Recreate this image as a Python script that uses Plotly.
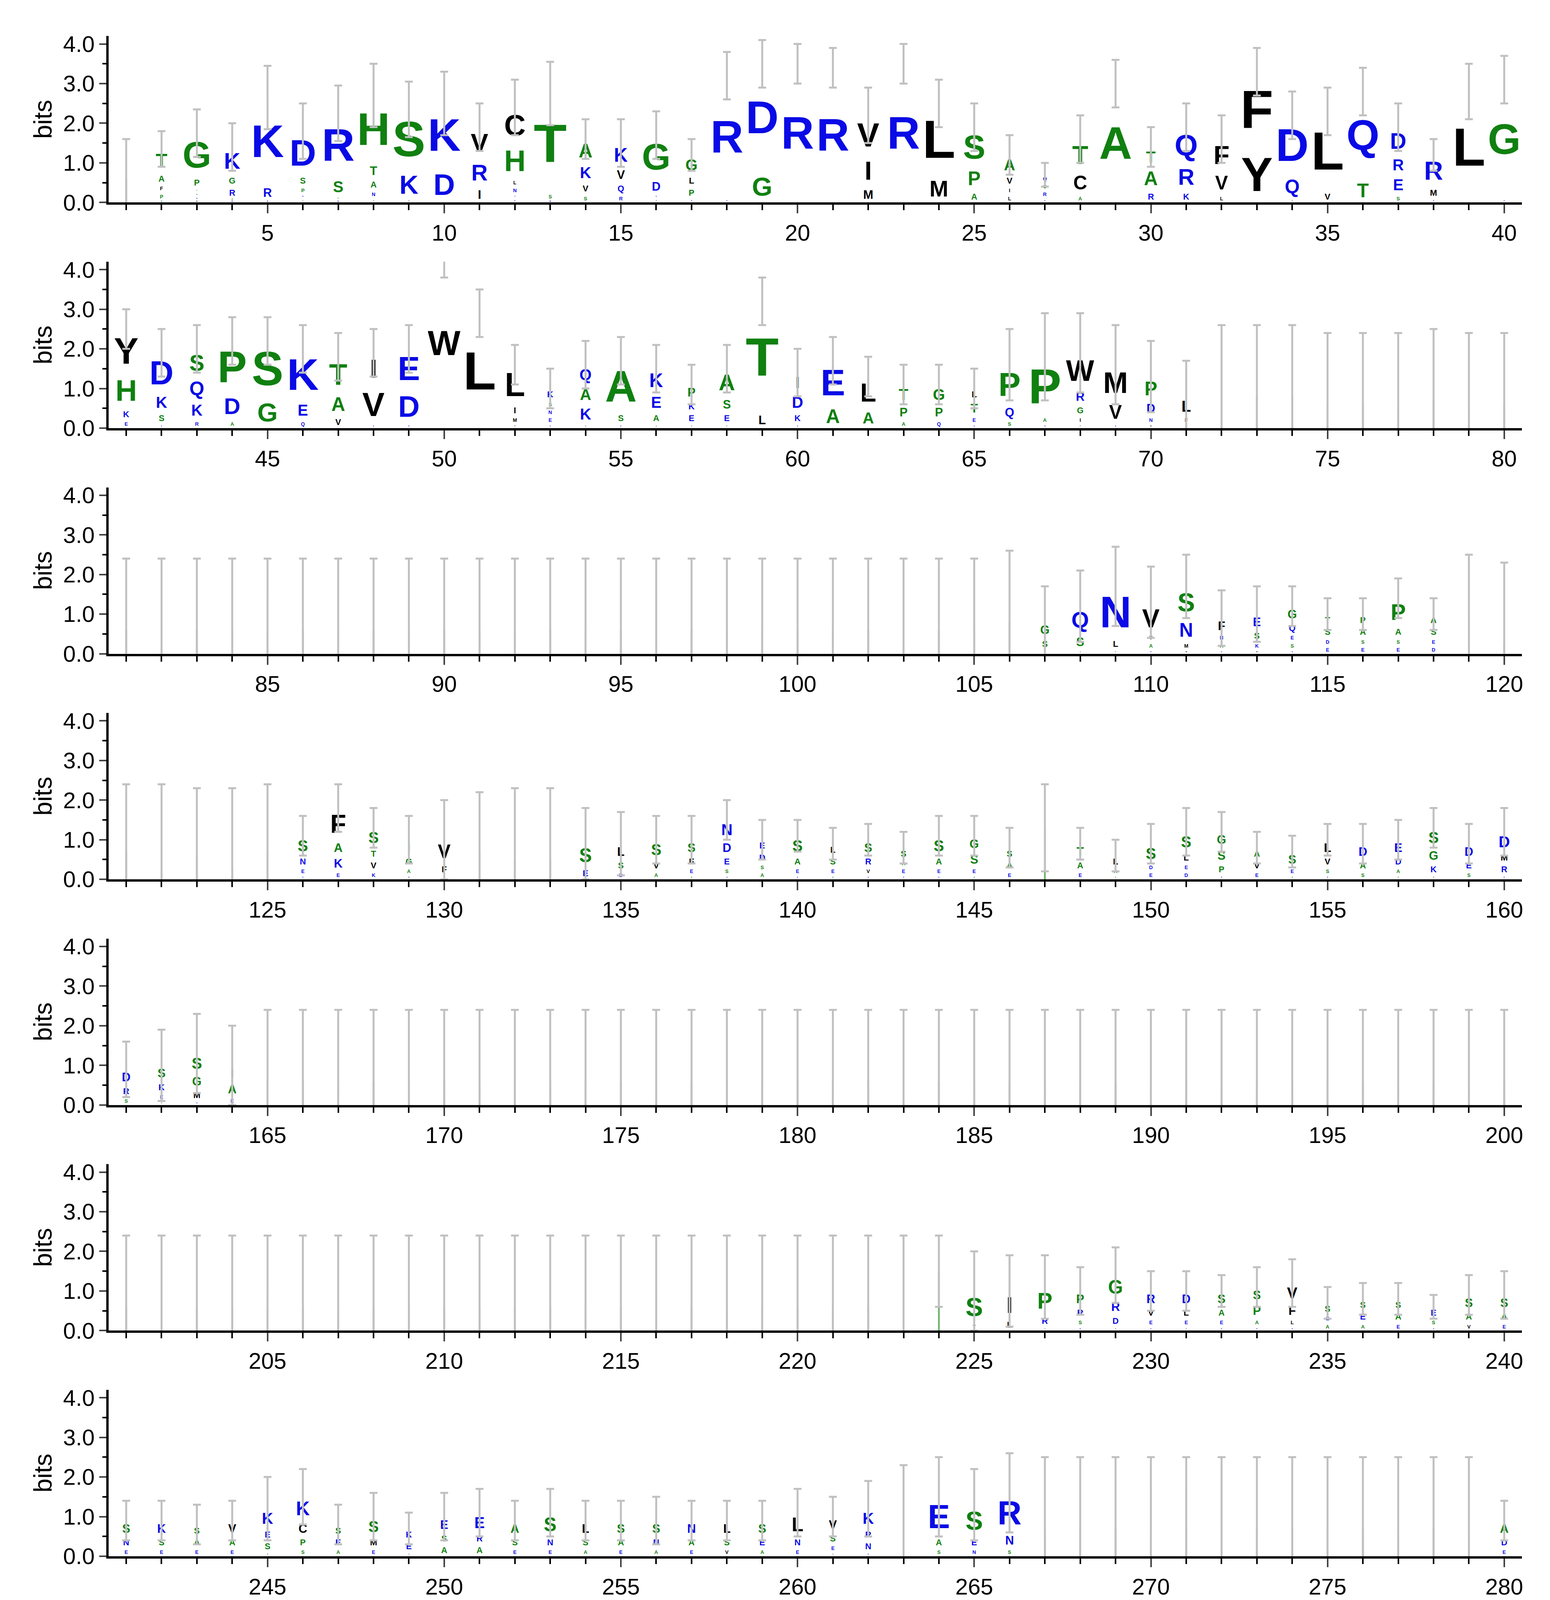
import plotly.graph_objects as go

# each entry: letters listed top to bottom "L:height", then "/" error half-length
# "~h" marks a nearly empty column of height h
row1 = ["~0.6/1.0", "T:0.6 A:0.3 F:0.2 P:0.2 S:0.05/0.45", "G:1.1 P:0.3 T:0.1 A:0.1 N:0.1 V:0.05/0.6", "K:0.7 G:0.3 R:0.3 P:0.05 E:0.05/0.6",
        "K:2.2 R:0.4 E:0.05/0.8", "D:1.1 S:0.3 P:0.2 R:0.1 T:0.1/0.7", "R:1.6 S:0.5 P:0.1 E:0.05/0.7", "H:1.7 T:0.4 A:0.3 N:0.2 S:0.1/0.8",
        "S:1.5 K:0.8 T:0.05/0.7", "K:1.6 D:0.9/0.8", "V:0.8 R:0.7 I:0.4/0.6", "C:0.9 H:0.9 L:0.2 N:0.2 Y:0.1 E:0.1/0.7",
        "T:2.5 S:0.2 N:0.05/0.8", "A:0.6 K:0.5 V:0.3 S:0.2/0.5", "K:0.6 V:0.4 Q:0.3 R:0.2/0.6", "G:1.1 D:0.4 E:0.1 S:0.1/0.6",
        "G:0.5 L:0.3 P:0.3 E:0.1/0.4", "R:3.1 D:0.1/0.6", "D:2.7 G:0.8/0.6", "R:3.5/0.5",
        "R:3.4/0.5", "V:1.0 I:0.8 M:0.4/0.7", "R:3.5/0.5", "L:1.8 M:0.7/0.6",
        "S:1.0 P:0.6 A:0.3/0.6", "A:0.5 V:0.3 I:0.2 L:0.2/0.5", "Q:0.2 S:0.2 R:0.2 E:0.1/0.3", "T:0.8 C:0.6 A:0.2/0.6",
        "A:3.0/0.6", "T:0.5 A:0.6 R:0.3/0.5", "Q:0.9 R:0.7 K:0.3/0.6", "F:0.8 V:0.6 L:0.2/0.6",
        "F:1.9 Y:1.4/0.6", "D:1.5 Q:0.6 S:0.1/0.6", "L:2.0 V:0.3/0.6", "Q:2.2 T:0.6/0.6",
        "D:0.7 R:0.5 E:0.5 S:0.2/0.6", "R:0.8 M:0.3 E:0.1/0.4", "L:2.8/0.7", "G:3.0 D:0.1/0.6"]
row2 = ["Y:1.1 H:0.9 K:0.3 E:0.2/0.5", "D:1.0 K:0.5 S:0.3 E:0.1/0.6", "S:0.7 Q:0.6 K:0.5 R:0.2/0.6", "P:1.3 D:0.7 A:0.2/0.6",
        "S:1.4 G:0.8/0.6", "K:1.3 E:0.5 Q:0.2/0.6", "T:0.9 A:0.6 V:0.3/0.6", "I:0.8 V:1.0 E:0.1/0.6",
        "E:1.0 D:0.9 R:0.1/0.6", "W:4.3/0.5", "L:2.9/0.6", "L:1.0 I:0.3 M:0.2 F:0.1/0.5",
        "K:0.3 S:0.2 N:0.2 E:0.2 D:0.1/0.5", "Q:0.5 A:0.5 K:0.5 S:0.1/0.6", "A:1.3 S:0.3 E:0.1/0.6", "K:0.6 E:0.5 A:0.3 S:0.1/0.6",
        "P:0.4 K:0.3 E:0.3 S:0.1/0.5", "A:0.7 S:0.4 E:0.3 P:0.1/0.6", "T:2.8 L:0.4/0.6", "I:0.5 D:0.5 K:0.3 E:0.1/0.6",
        "E:1.1 A:0.6/0.6", "L:0.8 A:0.5/0.5", "T:0.5 P:0.4 A:0.2/0.5", "G:0.5 P:0.4 Q:0.2/0.5",
        "L:0.3 T:0.4 E:0.2 N:0.1/0.5", "P:1.0 Q:0.4 S:0.2/0.9", "P:1.5 A:0.2 N:0.1/1.1", "W:0.9 R:0.4 G:0.3 I:0.2 P:0.1/1.0",
        "M:0.9 V:0.6 N:0.1/1.0", "P:0.6 D:0.4 N:0.2 M:0.1/0.9", "L:0.5 F:0.2 S:0.1/0.9", "~0.8/1.8",
        "~0.8/1.8", "~0.8/1.8", "~0.6/1.8", "~0.6/1.8", "~0.6/1.8", "~0.7/1.8", "~0.6/1.8", "~0.6/1.8"]
row3 = ["~0.6/1.8"] * 25 + ["~0.8/1.8",
        "G:0.4 S:0.3 A:0.1/0.9", "Q:0.7 S:0.4 G:0.1/0.9", "N:1.3 L:0.3 P:0.1/1.0", "V:0.8 Y:0.2 A:0.2 N:0.1/0.9",
        "S:0.8 N:0.6 M:0.2 W:0.1/0.8", "F:0.4 N:0.2 A:0.2 D:0.1/0.7", "E:0.4 S:0.3 K:0.2 M:0.1/0.7", "G:0.4 Q:0.3 E:0.2 S:0.2 N:0.1/0.5",
        "T:0.3 S:0.3 D:0.2 E:0.2/0.4", "P:0.3 A:0.3 S:0.2 E:0.2/0.4", "P:0.7 A:0.3 S:0.2 E:0.2/0.5", "A:0.3 S:0.3 E:0.2 D:0.2/0.4",
        "~1.0/1.5", "~0.3/2.0"]
row4 = ["~0.7/1.7", "~0.7/1.7", "~0.6/1.7", "~0.3/2.0", "~0.7/1.7",
        "S:0.5 N:0.3 E:0.2 D:0.1/0.5", "F:0.8 A:0.4 K:0.4 E:0.2/0.6", "S:0.5 T:0.3 V:0.3 K:0.2/0.5", "I:0.4 G:0.3 A:0.2 N:0.1/0.6",
        "V:0.6 F:0.3 Q:0.1/1.0", "~0.7/1.5", "~0.5/1.8", "~0.5/1.8", "S:0.6 E:0.3/0.9",
        "L:0.4 S:0.3 D:0.2/0.8", "S:0.5 V:0.3 A:0.2/0.6", "S:0.4 F:0.3 E:0.2 A:0.1/0.6", "N:0.5 D:0.4 E:0.3 S:0.2 Q:0.1/0.5",
        "E:0.3 D:0.3 S:0.2 A:0.2/0.5", "S:0.5 A:0.3 E:0.2 D:0.1/0.4", "L:0.3 S:0.3 E:0.2 A:0.1/0.4", "S:0.4 R:0.3 V:0.2 Q:0.1/0.4",
        "S:0.3 A:0.2 E:0.2 D:0.1/0.4", "S:0.5 A:0.3 E:0.2 D:0.1/0.5", "G:0.4 S:0.4 E:0.2 A:0.1/0.5", "S:0.3 A:0.3 E:0.2/0.5",
        "~1.3/1.1", "T:0.4 A:0.3 E:0.2/0.4", "L:0.3 A:0.2 S:0.1/0.4", "S:0.5 D:0.2 E:0.2/0.5",
        "S:0.5 L:0.3 E:0.2 D:0.2/0.6", "G:0.4 S:0.4 P:0.3 K:0.1/0.5", "A:0.3 V:0.3 E:0.2/0.4", "S:0.4 E:0.2 A:0.1/0.4",
        "L:0.4 V:0.3 S:0.2 E:0.1/0.4", "D:0.4 A:0.3 S:0.2/0.5", "E:0.4 D:0.3 A:0.2 S:0.1/0.5", "S:0.5 G:0.4 K:0.3 V:0.1/0.5",
        "D:0.4 E:0.3 S:0.2/0.5", "D:0.5 M:0.3 R:0.3 E:0.1/0.6"]
row5 = ["D:0.4 R:0.3 S:0.2/0.7", "S:0.4 K:0.3 E:0.2 Y:0.1/0.9", "S:0.5 G:0.4 M:0.3 E:0.1/1.0", "I:0.4 A:0.4 E:0.2/1.0"] + ["~0.6/1.8"] * 36
row6 = ["~0.6/1.8"] * 23 + ["~1.5/0.9",
        "S:0.8 T:0.2/1.0", "I:0.7 L:0.3/0.9", "P:0.7 R:0.3 T:0.1/0.8", "P:0.4 R:0.3 S:0.2 N:0.1/0.6",
        "G:0.6 R:0.4 D:0.3 Y:0.1/0.7", "R:0.4 V:0.3 E:0.2 D:0.1/0.5", "D:0.4 L:0.3 E:0.2 S:0.1/0.5", "S:0.4 A:0.3 E:0.2 D:0.1/0.4",
        "S:0.4 P:0.4 A:0.2 E:0.1/0.5", "V:0.5 F:0.4 L:0.2 E:0.1/0.6", "S:0.3 E:0.2 A:0.2/0.4", "S:0.3 E:0.3 A:0.2/0.4",
        "S:0.3 A:0.3 E:0.2/0.4", "E:0.3 S:0.2 D:0.1/0.3", "S:0.4 A:0.3 V:0.2/0.5", "S:0.4 A:0.3 E:0.2/0.6"]
row7 = ["S:0.4 N:0.3 E:0.2/0.5", "K:0.4 S:0.3 E:0.2/0.5", "S:0.3 A:0.3 E:0.2/0.5", "V:0.4 A:0.3 E:0.2/0.5",
        "K:0.5 E:0.3 S:0.3 V:0.1/0.8", "K:0.6 C:0.4 P:0.3 S:0.2/0.7", "S:0.3 E:0.3 A:0.2/0.5", "S:0.5 M:0.3 E:0.2/0.6",
        "K:0.3 E:0.3 S:0.1/0.4", "E:0.4 S:0.3 A:0.3/0.6", "E:0.5 R:0.3 A:0.3/0.6", "A:0.4 S:0.3 E:0.2/0.5",
        "S:0.6 N:0.3 E:0.2/0.6", "L:0.4 S:0.3 A:0.2/0.5", "S:0.4 A:0.3 E:0.2/0.5", "S:0.4 N:0.3 A:0.2/0.6",
        "N:0.4 A:0.3 E:0.2/0.5", "L:0.4 S:0.3 V:0.2/0.5", "S:0.4 E:0.3 A:0.2/0.5", "L:0.6 N:0.3 E:0.2/0.6",
        "V:0.4 S:0.3 E:0.2 G:0.1/0.5", "K:0.5 R:0.3 N:0.3 E:0.1/0.7", "~1.0/1.3", "E:1.0 A:0.3 S:0.2/1.0",
        "S:0.8 E:0.3 N:0.2/0.9", "R:1.0 N:0.4 S:0.2/1.0"] + ["~0.7/1.8"] * 13 + ["A:0.4 D:0.3 E:0.2/0.5"]
row8 = ["K:1.2 M:0.2 S:0.1/0.9", "A:1.0 E:0.3 S:0.1/0.9", "R:2.0 S:0.1/1.0", "A:0.8 E:0.4 N:0.1/0.9",
        "R:2.0 E:0.2/1.1", "~0.5/1.8", "A:1.3 K:0.2/1.2", "R:1.4 K:0.4/1.0",
        "E:1.0 C:0.5 D:0.3/1.0", "R:2.4/1.0", "T:1.1 V:0.5/1.0", "K:0.7 A:0.4 R:0.1/0.8",
        "E:1.4 D:0.3/1.0", "K:1.9 Q:0.1/1.1", "M:0.7 E:0.4 K:0.3 S:0.2/0.8", "M:0.7 K:0.4 C:0.3 D:0.1/0.8",
        "T:0.6 E:0.4 M:0.3/0.7", "K:0.8 R:0.8/0.8", "E:0.4 L:0.3 S:0.1/0.7", "S:0.6 N:0.3 Q:0.2/0.8", "~0.6/1.9"]

BLUE = "#0a0ae6"
GREEN = "#108010"
BLACK = "#000000"
colors = {}
for c in "DEKRQN":
    colors[c] = BLUE
for c in "GSTAPH":
    colors[c] = GREEN
for c in "LVIMFWYC":
    colors[c] = BLACK

rows = [row1, row2, row3, row4, row5, row6, row7, row8]

W, H = 3967, 4750
x_left, x_right = 270, 3890
fig = go.Figure()

for r, data in enumerate(rows):
    start = r * 40 + 1
    xs, hs, bases, texts, tcols, mcols, widths = [], [], [], [], [], [], []
    ex, ey, ee = [], [], []
    for i, entry in enumerate(data):
        pos = start + i
        letters, err = entry.split("/")
        if letters.startswith("~"):
            h = float(letters[1:])
            xs.append(pos); hs.append(h); bases.append(0); texts.append("")
            tcols.append(BLACK); mcols.append("rgba(16,128,16,0.6)"); widths.append(0.05)
            total = h
        else:
            items = [t.split(":") for t in letters.split()]
            items.reverse()
            total = 0
            for L, h in items:
                h = float(h)
                xs.append(pos); hs.append(h); bases.append(total); texts.append(L)
                tcols.append(colors[L]); mcols.append("rgba(0,0,0,0)"); widths.append(1.0)
                total += h
        ex.append(pos); ey.append(total); ee.append(float(err))
    n = "" if r == 0 else str(r + 1)
    fig.add_trace(go.Bar(
        x=xs, y=hs, base=bases, width=widths, text=texts,
        textposition="inside", insidetextanchor="middle", textangle=0,
        constraintext="inside",
        textfont=dict(color=tcols, size=400, family="Liberation Sans", weight="bold"),
        marker=dict(color=mcols, line=dict(width=0)),
        xaxis="x" + n, yaxis="y" + n, showlegend=False, hoverinfo="skip"
    ))
    fig.add_trace(go.Scatter(
        x=ex, y=ey, mode="markers", marker=dict(size=1, color="rgba(0,0,0,0)"),
        error_y=dict(type="data", array=ee, color="#c0c0c0", thickness=5, width=10),
        xaxis="x" + n, yaxis="y" + n, showlegend=False, hoverinfo="skip"
    ))

    base_px = 503 + r * 583
    top_px = base_px - 430
    npos = 40 if r < 7 else 21
    xr = x_left + (x_right - x_left) * npos / 40
    fig.layout["xaxis" + n] = dict(
        domain=[x_left / W, xr / W], range=[start - 0.5, start + npos - 0.5],
        anchor="y" + n, tickmode="array", tickvals=[v for v in range(start, start + npos) if v % 5 == 0],
        ticks="outside", ticklen=22, tickwidth=4, showline=True, linecolor="black", linewidth=6,
        showgrid=False, zeroline=False, tickfont=dict(size=58, family="Liberation Sans", color="black"),
        minor=dict(tickvals=list(range(start, start + npos)), ticks="outside", ticklen=14, tickwidth=4, tickcolor="black"),
    )
    fig.layout["yaxis" + n] = dict(
        domain=[1 - base_px / H, 1 - top_px / H], range=[0, 4.2], anchor="x" + n,
        tickvals=[0, 1, 2, 3, 4], ticktext=["0.0", "1.0", "2.0", "3.0", "4.0"],
        ticks="outside", ticklen=18, tickwidth=4, showline=True, linecolor="black", linewidth=6,
        showgrid=False, zeroline=False, tickfont=dict(size=58, family="Liberation Sans", color="black"),
        minor=dict(tickvals=[0.5, 1.5, 2.5, 3.5], ticks="outside", ticklen=10, tickwidth=4, tickcolor="black"),
        title=dict(text="bits", font=dict(size=64, family="Liberation Sans", color="black"), standoff=10),
    )

fig.add_annotation(text="WebLogo 3.4", xref="paper", yref="paper", x=3890 / W, y=1 - 4705 / H,
                   xanchor="right", yanchor="middle", showarrow=False,
                   font=dict(size=46, family="Liberation Sans", color="black"))

fig.update_layout(width=W, height=H, margin=dict(l=0, r=0, t=0, b=0),
                  plot_bgcolor="white", paper_bgcolor="white", barmode="overlay",
                  uniformtext=dict(mode=False))

fig.write_html("out.html")
